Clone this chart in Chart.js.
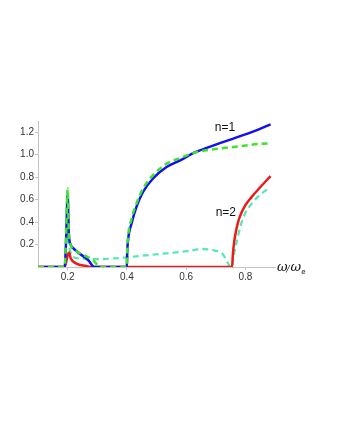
<!DOCTYPE html>
<html>
<head>
<meta charset="utf-8">
<script src="https://cdn.jsdelivr.net/npm/chart.js@4/dist/chart.umd.min.js"></script>
<style>
  html, body { margin: 0; padding: 0; background: #fff; }
  #wrap { width: 340px; height: 440px; }
</style>
</head>
<body>
<div id="wrap"><canvas id="c" width="340" height="440"></canvas></div>
<script>
  // omega / omega_e on the x axis
  var xTicks = [0.2, 0.4, 0.6, 0.8];
  var yTicks = [0.2, 0.4, 0.6, 0.8, 1.0, 1.2];

  // n=1, solid blue
  var blueX = [0.1, 0.19, 0.195, 0.2, 0.204, 0.21, 0.218, 0.24, 0.27, 0.29, 0.4, 0.401, 0.404, 0.416, 0.433, 0.455, 0.489, 0.534, 0.58, 0.63, 0.7, 0.766, 0.83, 0.885];
  var blueY = [0, 0, 0.25, 0.65, 0.3, 0.2, 0.17, 0.12, 0.06, 0, 0, 0.12, 0.24, 0.39, 0.54, 0.67, 0.79, 0.89, 0.95, 1.02, 1.09, 1.15, 1.21, 1.27];

  // n=1, dashed green
  var greenX = [0.1, 0.19, 0.195, 0.2, 0.204, 0.21, 0.224, 0.252, 0.286, 0.31, 0.4, 0.401, 0.404, 0.416, 0.433, 0.455, 0.489, 0.534, 0.58, 0.63, 0.698, 0.766, 0.873, 0.885];
  var greenY = [0, 0, 0.3, 0.7, 0.32, 0.2, 0.15, 0.11, 0.06, 0, 0, 0.14, 0.27, 0.43, 0.57, 0.70, 0.82, 0.92, 0.97, 1.02, 1.05, 1.07, 1.10, 1.10];

  // n=2, solid red
  var redX = [0.1, 0.19, 0.2, 0.205, 0.21, 0.23, 0.263, 0.28, 0.755, 0.758, 0.762, 0.77, 0.78, 0.8, 0.82, 0.85, 0.885];
  var redY = [0, 0, 0.1, 0.13, 0.08, 0.03, 0.01, 0, 0, 0.12, 0.22, 0.34, 0.44, 0.55, 0.62, 0.71, 0.81];

  // n=2, dashed aquamarine
  var cyanX = [0.1, 0.19, 0.195, 0.2, 0.205, 0.21, 0.218, 0.25, 0.3, 0.376, 0.45, 0.546, 0.6, 0.658, 0.69, 0.725, 0.74, 0.75, 0.755, 0.76, 0.773, 0.783, 0.8, 0.82, 0.84, 0.878];
  var cyanY = [0, 0, 0.2, 0.5, 0.2, 0.13, 0.09, 0.075, 0.07, 0.08, 0.1, 0.125, 0.14, 0.16, 0.15, 0.11, 0.04, 0, 0, 0.09, 0.25, 0.36, 0.48, 0.56, 0.62, 0.70];

  var pts = function(xs, ys) {
    var r = [];
    for (var i = 0; i < xs.length; i++) r.push({x: xs[i], y: ys[i]});
    return r;
  };

  var line = function(data, color, width, dash, order) {
    return {
      data: data,
      borderColor: color,
      borderWidth: width,
      borderDash: dash,
      pointRadius: 0,
      fill: false,
      cubicInterpolationMode: 'monotone',
      order: order
    };
  };

  var tickFont = {family: 'Liberation Sans, Arial, sans-serif', size: 10};

  // text inside the plot, axis label at the end of the x axis
  var labels = {
    id: 'labels',
    afterDraw: function(chart) {
      var ctx = chart.ctx, x = chart.scales.x, y = chart.scales.y;
      ctx.save();
      ctx.fillStyle = '#111';
      ctx.font = '12px Liberation Sans, Arial, sans-serif';
      ctx.textAlign = 'center';
      ctx.textBaseline = 'middle';
      ctx.fillText('n=1', x.getPixelForValue(0.731), y.getPixelForValue(1.24));
      ctx.fillText('n=2', x.getPixelForValue(0.734), y.getPixelForValue(0.48));
      var px = chart.chartArea.right + 2, py = y.getPixelForValue(0) + 1;
      ctx.textAlign = 'left';
      ctx.font = 'italic 13px DejaVu Serif, serif';
      ctx.fillText('ω', px, py);
      var w = ctx.measureText('ω').width;
      ctx.font = 'italic 9px DejaVu Serif, serif';
      ctx.fillText('/', px + w - 1, py + 2);
      ctx.font = 'italic 13px DejaVu Serif, serif';
      ctx.fillText('ω', px + w + 3, py);
      ctx.font = '7px DejaVu Sans, sans-serif';
      ctx.fillText('e', px + 2 * w + 3, py + 4);
      ctx.restore();
    }
  };

  new Chart(document.getElementById('c'), {
    type: 'line',
    data: {
      datasets: [
        line(pts(greenX, greenY), '#3fe32a', 2.5, [6, 4], 0),
        line(pts(blueX, blueY), '#1010f0', 2.5, [], 1),
        line(pts(redX, redY), '#ee1a1a', 2.5, [], 2),
        line(pts(cyanX, cyanY), '#52eab0', 2.2, [6, 4], 3)
      ]
    },
    options: {
      responsive: false,
      animation: false,
      layout: {padding: {left: 10, right: 65, top: 121, bottom: 153}},
      plugins: {legend: {display: false}, tooltip: {enabled: false}},
      scales: {
        x: {
          type: 'linear',
          min: 0.1,
          max: 0.9,
          afterFit: function(s) { s.height = 20; },
          afterBuildTicks: function(s) { s.ticks = xTicks.map(function(v) { return {value: v}; }); },
          border: {color: '#c4c4c4', width: 1},
          grid: {drawOnChartArea: false, tickLength: 3, color: '#c4c4c4'},
          ticks: {font: tickFont, color: '#333', padding: 1, maxRotation: 0,
            callback: function(v) { return v.toFixed(1); }}
        },
        y: {
          min: 0,
          max: 1.3,
          afterFit: function(s) { s.width = 28; },
          afterBuildTicks: function(s) { s.ticks = yTicks.map(function(v) { return {value: v}; }); },
          border: {color: '#c4c4c4', width: 1},
          grid: {drawOnChartArea: false, tickLength: 3, color: '#c4c4c4'},
          ticks: {font: tickFont, color: '#333', padding: 1,
            callback: function(v) { return v.toFixed(1); }}
        }
      }
    },
    plugins: [labels]
  });
</script>
</body>
</html>
